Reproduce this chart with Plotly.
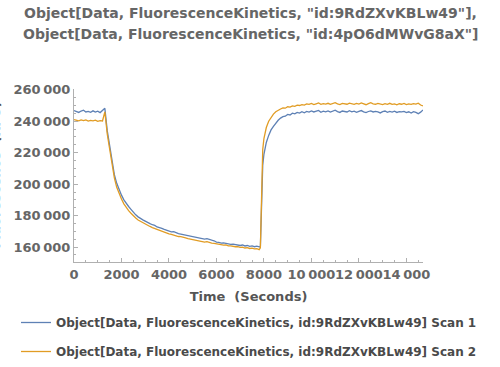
import plotly.graph_objects as go

time_s = [
    0, 100, 200, 300, 400, 500, 600, 700, 800, 900,
    1000, 1100, 1200, 1300, 1400, 1500, 1600, 1700, 1800, 1900,
    2000, 2100, 2200, 2300, 2400, 2500, 2600, 2700, 2800, 2900,
    3000, 3100, 3200, 3300, 3400, 3500, 3600, 3700, 3800, 3900,
    4000, 4100, 4200, 4300, 4400, 4500, 4600, 4700, 4800, 4900,
    5000, 5100, 5200, 5300, 5400, 5500, 5600, 5700, 5800, 5900,
    6000, 6100, 6200, 6300, 6400, 6500, 6600, 6700, 6800, 6900,
    7000, 7100, 7200, 7300, 7400, 7500, 7600, 7700, 7800, 7850,
    7900, 7950, 8000, 8100, 8200, 8300, 8400, 8500, 8600, 8700,
    8800, 8900, 9000, 9100, 9200, 9300, 9400, 9500, 9600, 9700,
    9800, 9900, 10000, 10100, 10200, 10300, 10400, 10500, 10600, 10700,
    10800, 10900, 11000, 11100, 11200, 11300, 11400, 11500, 11600, 11700,
    11800, 11900, 12000, 12100, 12200, 12300, 12400, 12500, 12600, 12700,
    12800, 12900, 13000, 13100, 13200, 13300, 13400, 13500, 13600, 13700,
    13800, 13900, 14000, 14100, 14200, 14300, 14400, 14500, 14600, 14700,
]

scan1 = [
    246800, 246200, 245600, 246500, 247000, 245900, 246300, 245700, 246600, 245800,
    246400, 245500, 246900, 248200, 234000, 225000, 214000, 206000, 200500, 196000,
    193000, 190000, 187500, 185800, 184000, 182000, 180500, 179200, 178500, 177300,
    176500, 175500, 174900, 174200, 173800, 172800, 172500, 171900, 171200, 170800,
    170200, 169600, 169800, 168900, 168500, 168200, 167900, 167600, 167100, 167200,
    166500, 166300, 166100, 165800, 165600, 165100, 165300, 164600, 164400, 164000,
    163200, 163000, 162500, 162700, 162200, 162100, 161700, 161900, 161500, 161300,
    161000, 161300, 160700, 161000, 160500, 160700, 160200, 160600, 160100, 159900,
    186000, 212000, 219000, 226500, 231000, 234500, 236800, 238900, 240600, 242000,
    242900, 243200, 244300, 244000, 245100, 244700, 245600, 245200, 246100, 245400,
    246200, 245800, 246500, 245900, 246300, 246900, 245700, 246400, 246000, 246600,
    245800, 246300, 247000, 246100, 245600, 246500, 246200, 245900, 246700, 246000,
    246400, 245700, 246300, 246800, 246000, 245500, 246200, 246600, 245900, 246300,
    246000, 245300, 246100, 246500, 245700, 246200, 245800, 246400, 245600, 246100,
    245900, 246300, 245500, 246000, 245200, 246100, 245600, 244800, 245800, 247200,
]

scan2 = [
    241000, 240600, 240200, 240800, 240400, 240900, 240100, 240500, 240300, 240700,
    239900, 240400, 240200, 246000, 232000, 222500, 212000, 204000, 198000, 193500,
    190500, 187500, 185000, 183200, 181500, 179800, 178500, 177200, 176300, 175400,
    174500, 173600, 173100, 172400, 171800, 171000, 170700, 170000, 169600, 169000,
    168400, 168100, 167600, 167300, 166700, 166600, 166000, 165800, 165400, 165100,
    164900, 164300, 164400, 163800, 163600, 163200, 163400, 162800, 162500, 162300,
    162000, 161700, 161500, 161200, 161300, 160700, 160800, 160400, 160200, 160300,
    159800, 159900, 159400, 159600, 159100, 159300, 158800, 159000, 158400, 159500,
    205000, 222000, 229000, 236000, 240000, 242600, 244500, 246000, 247200, 247800,
    248500, 248300, 249200, 249000, 249800, 249500, 250200, 250000, 250600, 250300,
    251000, 250700, 251300, 250600, 251100, 251600, 250800, 251200, 250900, 251400,
    250700, 251200, 251800, 251000, 250600, 251300, 251000, 250800, 251500, 251100,
    250700, 251300, 250900, 251600, 251000, 250500, 251200, 251800, 251100, 250800,
    251300, 250900, 250600, 251200, 250800, 251400, 250700, 251000, 250400, 251100,
    250800, 251300, 250600, 251000, 250700, 251200, 250900, 251500, 250300, 249800,
]

x_tick_vals = [0, 2000, 4000, 6000, 8000, 10000, 12000, 14000]
x_tick_text = ["0", "2000", "4000", "6000", "8000", "10\u2009000", "12\u2009000", "14\u2009000"]
y_tick_vals = [160000, 180000, 200000, 220000, 240000, 260000]
y_tick_text = ["160\u2009000", "180\u2009000", "200\u2009000", "220\u2009000", "240\u2009000", "260\u2009000"]

series_names = [
    "Object[Data, FluorescenceKinetics, id:9RdZXvKBLw49] Scan 1",
    "Object[Data, FluorescenceKinetics, id:9RdZXvKBLw49] Scan 2",
]
title_lines = [
    'Object[Data, FluorescenceKinetics, "id:9RdZXvKBLw49"],',
    'Object[Data, FluorescenceKinetics, "id:4pO6dMWvG8aX"]',
]
x_title = "Time  (Seconds)"
y_title = "Fluorescence  (RFU)"

FONT = "DejaVu Sans"
GRAY = "#666666"
AXIS = "#b0b0b0"

fig = go.Figure()
fig.add_trace(go.Scatter(x=time_s, y=scan1, mode="lines", name="<b>" + series_names[0] + "</b>",
                         line=dict(color="#5E81B5", width=1.3), legendgroup="a"))
fig.add_trace(go.Scatter(x=time_s, y=scan2, mode="lines", name="<b>" + series_names[1] + "</b>",
                         line=dict(color="#E19C24", width=1.3), legendgroup="b"))

L, R, T, B = 74, 77, 89, 105
W, H = 500, 367
pw = W - L - R
ph = H - T - B

fig.update_layout(
    width=W, height=H,
    margin=dict(l=L, r=R, t=T, b=B, autoexpand=False),
    paper_bgcolor="white", plot_bgcolor="white",
    font=dict(family=FONT, color=GRAY, size=13),
    showlegend=True,
    legend=dict(x=(16 - L) / pw, xanchor="left", y=-(308 - (H - B)) / ph, yanchor="top",
                bgcolor="rgba(0,0,0,0)", tracegroupgap=10,
                font=dict(family=FONT, size=12, color="#4a4a4a")),
    xaxis=dict(range=[0, 14700], showgrid=False, zeroline=False,
               showline=True, linecolor=AXIS, linewidth=1,
               ticks="inside", ticklen=4, tickcolor=AXIS, tickangle=0,
               tickmode="array", tickvals=x_tick_vals, ticktext=["<b>" + t + "</b>" for t in x_tick_text],
               minor=dict(ticks="inside", ticklen=2, dtick=500, tick0=0, tickcolor=AXIS, showgrid=False),
               tickfont=dict(family=FONT, size=13, color=GRAY),
               title=dict(text="<b>" + x_title + "</b>", standoff=11,
                          font=dict(family=FONT, size=13, color="#555555"))),
    yaxis=dict(range=[150500, 260500], showgrid=False, zeroline=False,
               showline=True, linecolor=AXIS, linewidth=1,
               ticks="inside", ticklen=4, tickcolor=AXIS,
               tickmode="array", tickvals=y_tick_vals, ticktext=["<b>" + t + "</b>" for t in y_tick_text],
               minor=dict(ticks="inside", ticklen=2, dtick=5000, tick0=0, tickcolor=AXIS, showgrid=False),
               tickfont=dict(family=FONT, size=13, color=GRAY)),
)

for i, line in enumerate(title_lines):
    py = 13 + 21 * i
    fig.add_annotation(text="<b>" + line + "</b>", xref="paper", yref="paper",
                       x=0.5 + (250 - (L + pw / 2)) / pw, y=((H - B) - py) / ph,
                       xanchor="center", yanchor="middle", showarrow=False,
                       font=dict(family=FONT, size=14, color=GRAY))

fig.add_annotation(text="<b>" + y_title + "</b>", textangle=-90,
                   xref="paper", yref="paper", x=(-5 - L) / pw, y=0.5,
                   xanchor="center", yanchor="middle", showarrow=False,
                   font=dict(family=FONT, size=13, color="#555555"))

fig.write_html("out.html", config={"displayModeBar": False},
               post_script="document.body.style.margin='0';document.body.style.padding='0';")
